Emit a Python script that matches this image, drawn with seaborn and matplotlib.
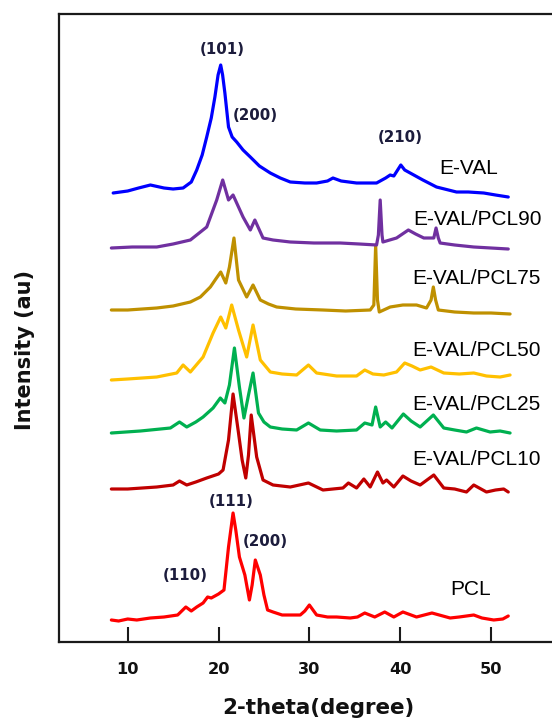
import numpy as np
import pandas as pd
import matplotlib
matplotlib.use("Agg")
import matplotlib.pyplot as plt
import seaborn as sns

# ---------------- data: 2-theta (degree) and intensity (a.u., above each pattern's own baseline) ----------------
series_names = ["PCL", "E-VAL/PCL10", "E-VAL/PCL25", "E-VAL/PCL50", "E-VAL/PCL75", "E-VAL/PCL90", "E-VAL"]

pcl_x = [8.2, 9, 10, 11, 12.5, 14, 15.5, 16.4, 17, 17.6, 18.3, 18.8, 19.2, 20, 20.6, 21.1, 21.6, 21.9, 22.3, 22.9,
         23.4, 23.7, 24.05, 24.6, 25.0, 25.4, 26, 27, 28, 29, 29.5, 30.0, 30.8, 32, 33, 34.5, 35.3, 36.1, 37.2, 38.3,
         39.3, 40.3, 41.8, 43.5, 45.5, 46.5, 48.1, 49, 50.3, 51.3, 51.9]
pcl_y = [0, -1, 1, 0, 2, 3, 5, 13, 9, 13, 17, 23, 22, 26, 30, 73, 107, 90, 63, 45,
         20, 35, 60, 45, 25, 10, 8, 5, 5, 5, 9, 15, 5, 3, 3, 2, 3, 7, 3, 8,
         3, 8, 3, 7, 2, 3, 5, 2, 0, 1, 4]

pcl10_x = [8.2, 10, 13.2, 15, 15.7, 16.5, 17.5, 18.7, 20.0, 20.5, 21.1, 21.6, 22.2, 22.6, 23.0, 23.3, 23.6, 24.2, 24.9, 26,
           27.9, 29.9, 31.5, 33.7, 34.3, 35.2, 36.0, 36.7, 37.5, 38.1, 38.5, 39.3, 40.3, 41.2, 42.2, 43.7, 44.8, 46, 47.3, 48.1,
           49.5, 50.5, 51.4, 51.9]
pcl10_y = [1, 1, 3, 5, 9, 5, 8, 12, 16, 20, 50, 96, 57, 30, 12, 35, 75, 33, 10, 5,
           3, 7, 0, 2, 7, 2, 11, 3, 18, 7, 10, 3, 14, 9, 5, 15, 2, 1, -2, 5,
           -2, 0, 1, -2]

pcl25_x = [8.2, 11.4, 14.7, 15.7, 16.5, 17.5, 18.3, 19.4, 20.2, 20.7, 21.2, 21.75, 22.3, 22.8, 23.3, 23.8, 24.4, 25.0, 25.7, 27,
           28.6, 29.9, 31.2, 33, 35.2, 36.1, 36.9, 37.3, 37.8, 38.4, 39.1, 40.35, 41.2, 42.2, 43.65, 44.8, 46, 47.3, 48.4, 49.9,
           51, 52.1]
pcl25_y = [-1, 1, 4, 10, 5, 10, 15, 24, 34, 29, 47, 84, 45, 14, 37, 59, 19, 10, 5, 3,
           2, 9, 2, 1, 2, 9, 7, 25, 5, 10, 4, 18, 11, 5, 17, 4, 2, 0, 4, 0,
           1, -1]

pcl50_x = [8.2, 10, 13.2, 15.4, 16.1, 16.9, 18.3, 19.4, 20.24, 20.8, 21.45, 22.2, 23.1, 23.8, 24.6, 25.7, 27, 28.6, 29.9, 30.8,
           33, 35.2, 36.1, 37, 38.2, 39.6, 40.5, 41.3, 42.2, 43.4, 44.8, 46.5, 48.1, 49.5, 51, 52.1]
pcl50_y = [-2, -1, 1, 5, 13, 6, 21, 45, 61, 50, 73, 48, 21, 53, 18, 6, 4, 3, 13, 5,
           2, 2, 8, 4, 3, 6, 15, 12, 8, 11, 5, 4, 5, 2, 1, 3]

pcl75_x = [8.2, 10, 13.2, 15, 16.9, 18, 19.1, 19.7, 20.24, 20.8, 21.2, 21.7, 22.2, 23.1, 23.8, 24.6, 25.5, 26.4, 28.5, 31.5,
           34, 36.7, 37.1, 37.3, 37.5, 37.7, 38.9, 40.3, 41.8, 42.9, 43.4, 43.65, 43.9, 44.2, 46, 48.1, 50, 52.1]
pcl75_y = [1, 1, 3, 5, 9, 14, 24, 32, 39, 28, 44, 73, 31, 14, 26, 11, 7, 4, 2, 1,
           0, 1, 6, 66, 11, -1, 4, 6, 6, 3, 11, 24, 11, 1, -1, -2, -2, -3]

pcl90_x = [8.2, 10.5, 13.2, 15, 16.9, 18.7, 19.8, 20.46, 21.1, 21.6, 22.7, 23.5, 24.0, 24.9, 26, 27.9, 30.5, 33.4, 35.5, 37.4,
           37.6, 37.8, 38.0, 38.1, 39.6, 40.9, 41.7, 42.6, 43.7, 43.95, 44.2, 44.4, 46, 48.1, 50, 51.9]
pcl90_y = [0, 1, 1, 4, 8, 21, 48, 68, 48, 53, 31, 18, 28, 10, 8, 6, 5, 5, 4, 3,
           13, 48, 13, 6, 10, 18, 14, 10, 10, 20, 10, 5, 3, 1, 0, -1]

eval_x = [8.4, 10, 11.2, 12.5, 14, 15, 16.1, 17, 17.6, 18.2, 18.7, 19.2, 19.6, 19.95, 20.24, 20.45, 20.7, 21.1, 21.5, 22.0,
          22.7, 23.5, 24.5, 25.7, 26.8, 27.9, 29.5, 30.8, 32.0, 32.6, 33.5, 35.2, 37.4, 38.4, 38.9, 39.3, 40.07, 40.5, 41.1, 42.5,
          44.0, 46.2, 47.5, 49.2, 50.5, 51.9]
eval_y = [2, 4, 7, 10, 7, 6, 7, 13, 25, 40, 58, 77, 98, 120, 130, 120, 102, 68, 58, 53,
          45, 38, 29, 22, 17, 13, 12, 12, 14, 17, 14, 12, 12, 17, 20, 19, 30, 25, 22, 15,
          8, 3, 3, 2, 0, -2]

xs = [pcl_x, pcl10_x, pcl25_x, pcl50_x, pcl75_x, pcl90_x, eval_x]
ys = [pcl_y, pcl10_y, pcl25_y, pcl50_y, pcl75_y, pcl90_y, eval_y]

# vertical stacking offsets of each pattern (a.u.)
offsets = [22, 152, 210, 264, 331, 394, 447]

colors = ["#FF0000", "#C00000", "#00B050", "#FFC000", "#BF9000", "#7030A0", "#0000FF"]

# sample labels: left x (degree) and baseline height (a.u.)
label_x = [45.5, 41.3, 41.3, 41.3, 41.3, 41.4, 44.3]
label_y = [46.6, 176.6, 231.6, 285.6, 358, 416.6, 467.6]

# Miller index annotations
hkl_text = ["(110)", "(111)", "(200)", "(101)", "(200)", "(210)"]
hkl_x = [16.3, 21.4, 25.2, 20.4, 24.1, 40.0]
hkl_y = [67, 140, 100, 592, 527, 504]

xticks = [10, 20, 30, 40, 50]

# ---------------- long-form table ----------------
rows = []
for name, x, y, off in zip(series_names, xs, ys, offsets):
    for xi, yi in zip(x, y):
        rows.append({"theta": xi, "intensity": yi + off, "sample": name})
df = pd.DataFrame(rows)

sns.set_theme(style="white")
plt.rcParams["font.family"] = ["DejaVu Sans"]

fig = plt.figure(figsize=(5.52, 7.22), dpi=100)
ax = fig.add_axes([59 / 552, 80 / 722, 1 - 59 / 552, 628 / 722])

sns.lineplot(data=df, x="theta", y="intensity", hue="sample",
             palette=dict(zip(series_names, colors)), hue_order=series_names,
             sort=False, estimator=None, legend=False, linewidth=2.3, ax=ax)

ax.set_xlim(2.436, 56.716)
ax.set_ylim(0, 628)

for name, lx, ly in zip(series_names, label_x, label_y):
    ax.text(lx, ly, name, fontsize=15, color="black", ha="left", va="baseline",
            family=["Liberation Sans", "DejaVu Sans"])

for t, hx, hy in zip(hkl_text, hkl_x, hkl_y):
    ax.text(hx, hy, t, fontsize=10.8, fontweight="bold", color="#1c1c3c", ha="center", va="center")

ax.set_xticks(xticks)
ax.set_xticklabels([str(t) for t in xticks], fontsize=11.7, fontweight="bold", color="#111111")
ax.set_yticks([])
ax.tick_params(axis="x", direction="in", length=10.8, width=1.5, color="#1a1a1a", pad=14.5, bottom=True)

for side in ["left", "top", "bottom"]:
    ax.spines[side].set_visible(True)
    ax.spines[side].set_color("#1a1a1a")
    ax.spines[side].set_linewidth(1.6)
ax.spines["right"].set_visible(False)

ax.set_xlabel("2-theta(degree)", fontsize=15.4, fontweight="bold", color="#111111")
ax.xaxis.set_label_coords((318.5 - 59) / 493, (642 - 708) / 628)
ax.xaxis.label.set_va("center")
ax.xaxis.label.set_ha("center")

ax.set_ylabel("Intensity (au)", fontsize=15.0, fontweight="bold", color="#111111")
ax.yaxis.set_label_coords((25 - 59) / 493, (642 - 350) / 628)
ax.yaxis.label.set_va("center")
ax.yaxis.label.set_ha("center")

fig.savefig("out.png", dpi=100)
